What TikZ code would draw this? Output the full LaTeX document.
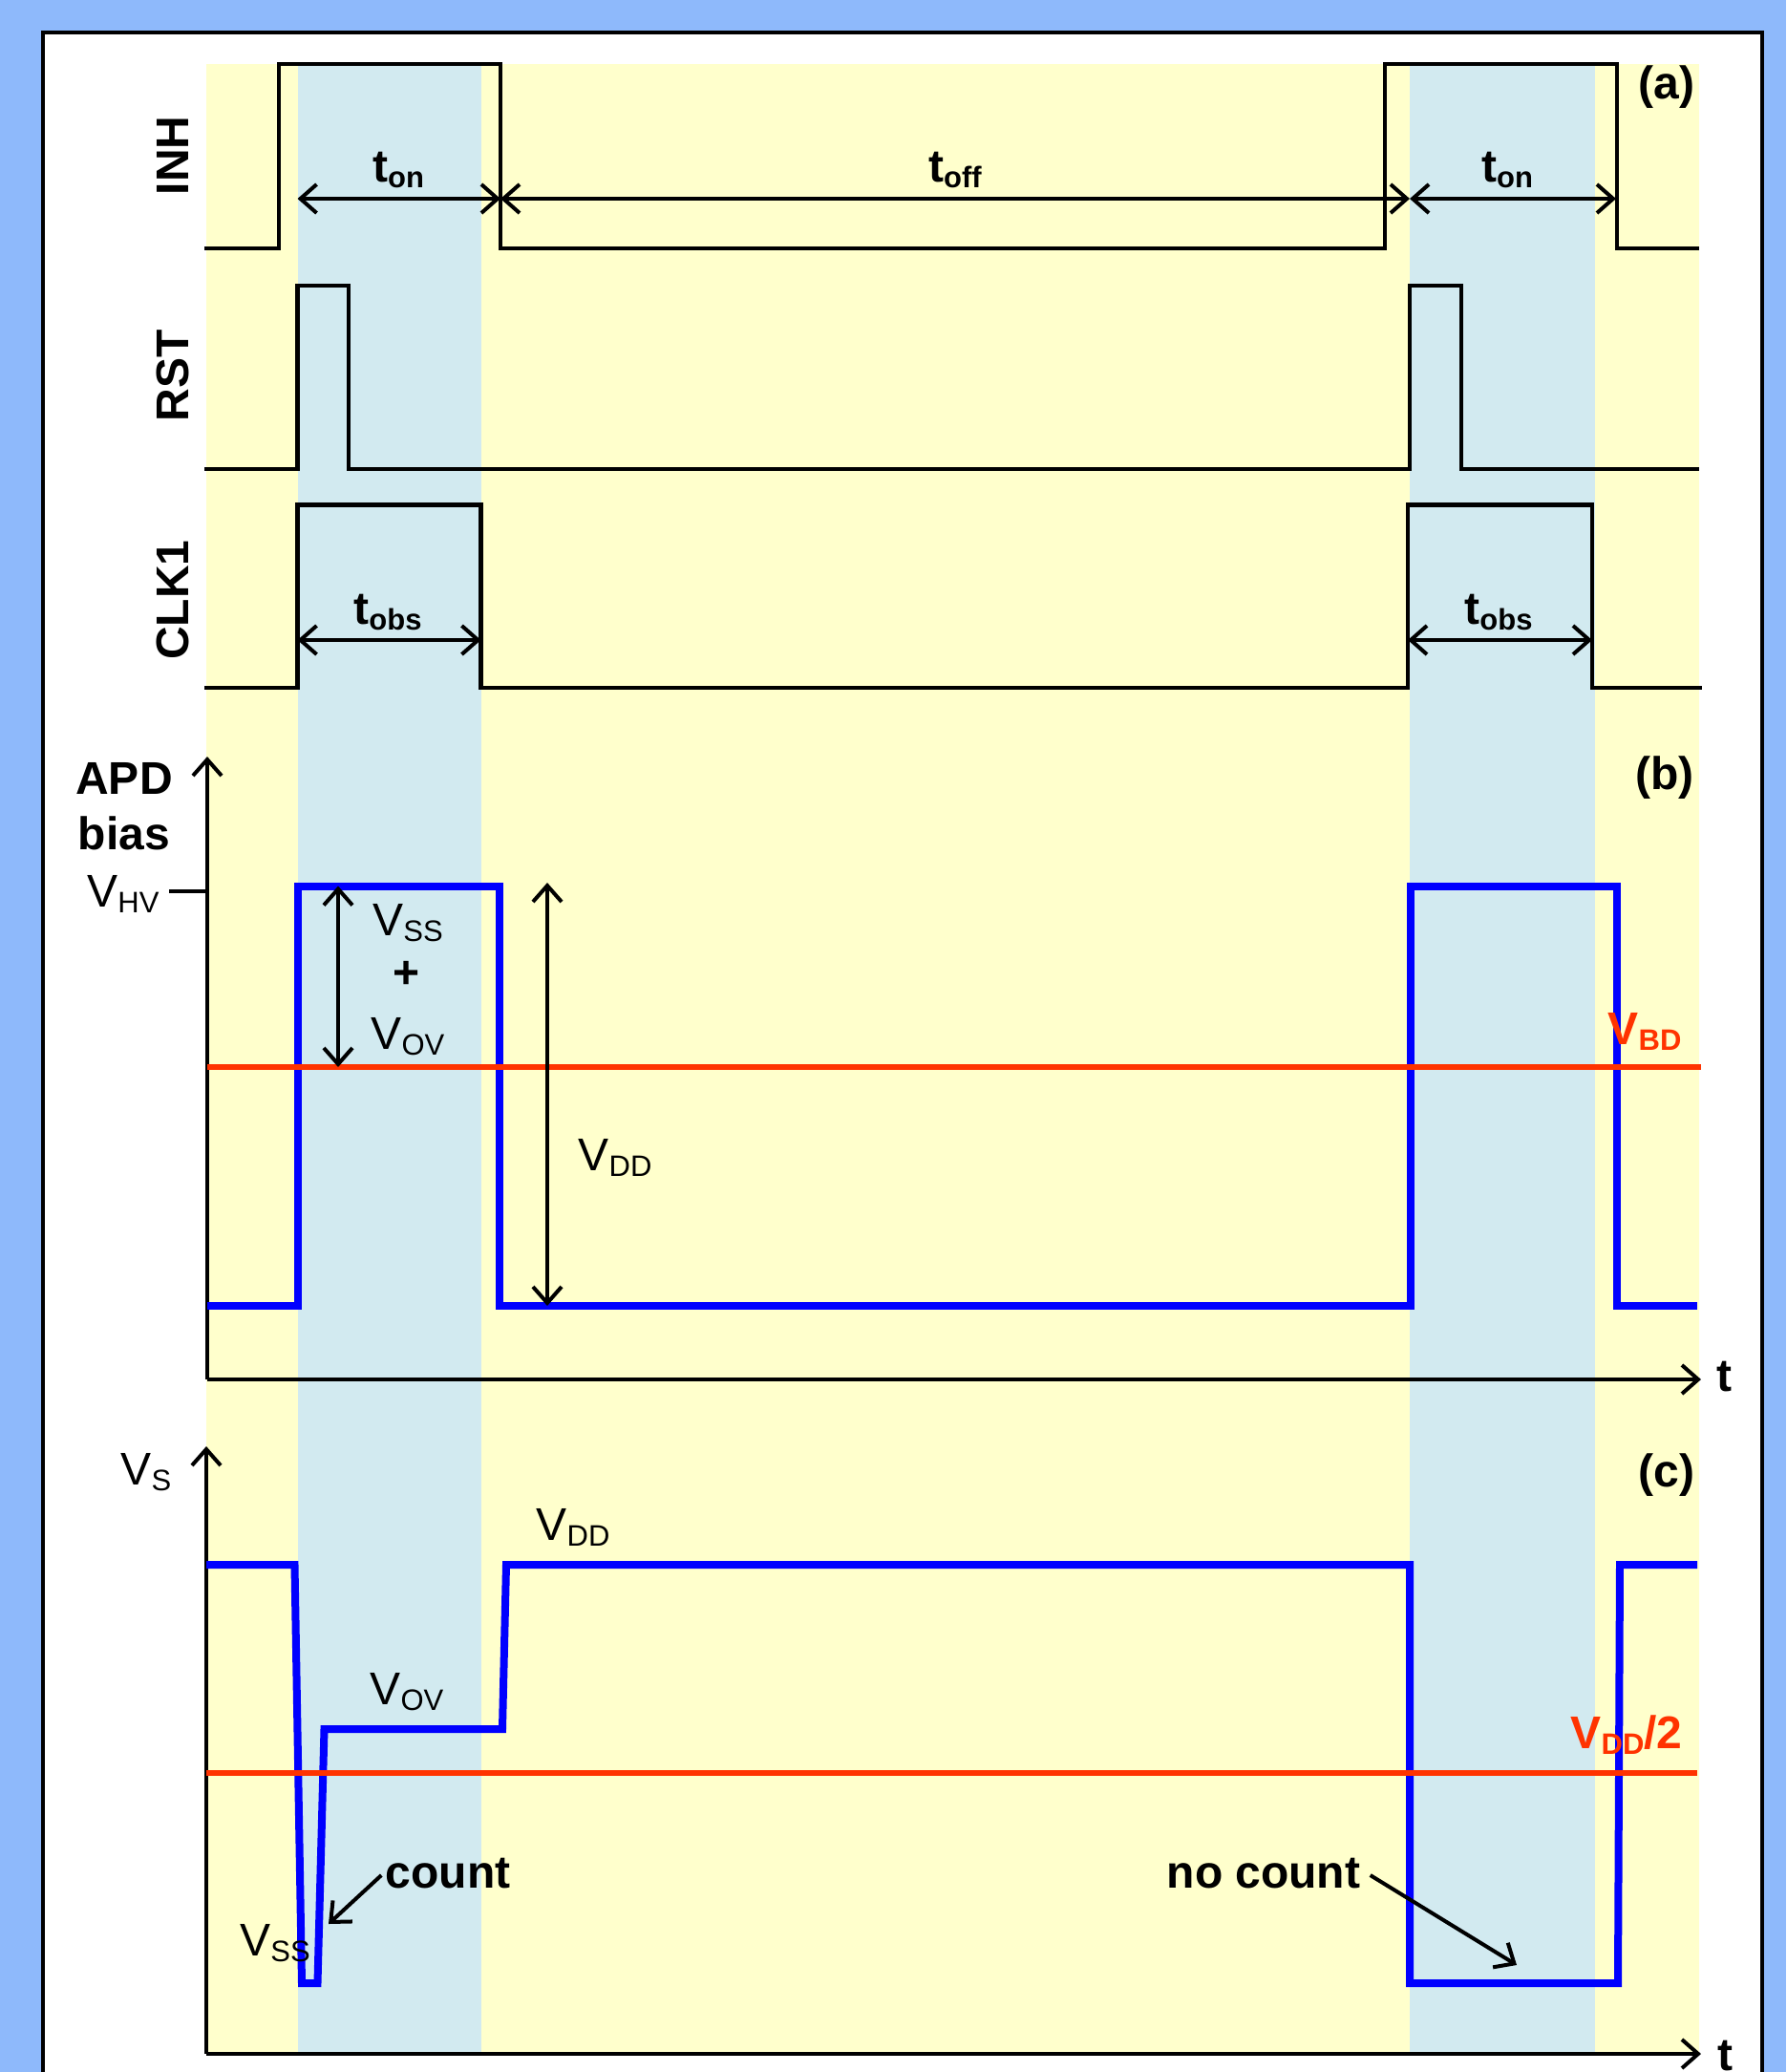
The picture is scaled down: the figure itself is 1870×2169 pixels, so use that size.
\documentclass[tikz,border=0pt]{standalone}
\usepackage{fontspec}
\setmainfont{Liberation Sans}
\usetikzlibrary{arrows.meta}
\definecolor{outerblue}{RGB}{142,185,251}
\definecolor{paleyellow}{RGB}{255,255,204}
\definecolor{paleblue}{RGB}{210,234,240}
\definecolor{sigred}{RGB}{255,51,0}
\definecolor{sigblue}{RGB}{0,0,255}
\newcommand{\sbs}[1]{\raisebox{-3.2pt}{\fontsize{15.5}{16}\selectfont #1}}
\begin{document}
\begin{tikzpicture}[x=0.5pt,y=-0.5pt,
  sig/.style={line width=2.3pt, line join=miter, line cap=rect},
  bsig/.style={line width=4pt, sigblue, line join=miter},
  rline/.style={line width=2.7pt, sigred},
  barb/.tip={Straight Barb[length=8.5pt,width=15pt]},
  dim/.style={line width=2pt, barb-barb},
  axis/.style={line width=2pt, -barb},
  pointer/.style={line width=2pt, -barb},
  lab/.style={font=\bfseries\fontsize{24}{28}\selectfont, inner sep=0pt},
  vlab/.style={font=\fontsize{24}{28}\selectfont, inner sep=0pt}]
\useasboundingbox (0,0) rectangle (1870,2169);
\clip (0,0) rectangle (1870,2169);
% backgrounds
\fill[outerblue] (0,0) rectangle (1870,2169);
\filldraw[fill=white, draw=black, line width=2pt] (45,34) rectangle (1845,2220);
\fill[paleyellow] (216,67) rectangle (1779,2149);
\fill[paleblue] (311.5,67) rectangle (503.5,2149);
\fill[paleblue] (1476,67) rectangle (1670,2149);

% ---------------- panel (a) ----------------
\draw[sig] (216,260) -- (292,260) -- (292,67) -- (524,67) -- (524,260) -- (1450,260) -- (1450,67) -- (1693,67) -- (1693,260) -- (1777,260);
\draw[sig] (216,491) -- (311.5,491) -- (311.5,299) -- (365,299) -- (365,491) -- (1476,491) -- (1476,299) -- (1530,299) -- (1530,491) -- (1777,491);
\draw[sig] (216,720) -- (311.5,720) -- (311.5,528.5) -- (503.5,528.5) -- (503.5,720) -- (1474,720) -- (1474,528.5) -- (1667,528.5) -- (1667,720) -- (1780,720);

\node[lab, rotate=90] (inh) at (181,163) {INH};
\node[lab, rotate=90] (rst) at (181,393) {RST};
\node[lab, rotate=90] (clk) at (181,628) {CLK1};
\node[lab] (lba) at (1745,91) {(a)};

\coordinate (a1) at (311.5,208);
\coordinate (a2) at (524,208);
\coordinate (a3) at (1476,208);
\coordinate (a4) at (1692,208);
\draw[dim] (a1) -- (a2);
\draw[dim] (a2) -- (a3);
\draw[dim] (a3) -- (a4);
\node[lab] (ton1) at (417,178) {t\sbs{on}};
\node[lab] (toff) at (1000,178) {t\sbs{off}};
\node[lab] (ton2) at (1578,178) {t\sbs{on}};

\coordinate (o1) at (311.5,670);
\coordinate (o2) at (503.5,670);
\coordinate (o3) at (1474,670);
\coordinate (o4) at (1667,670);
\draw[dim] (o1) -- (o2);
\draw[dim] (o3) -- (o4);
\node[lab] (tobs1) at (406,641) {t\sbs{obs}};
\node[lab] (tobs2) at (1569,641) {t\sbs{obs}};

% ---------------- panel (b) ----------------
\coordinate (b0) at (217,1444);
\coordinate (btop) at (217,792);
\coordinate (bend) at (1781,1444);
\draw[axis] (b0) -- (btop);
\draw[axis] (b0) -- (bend);
\node[lab] (tb) at (1805,1441) {t};

\coordinate (hv0) at (177,933);
\coordinate (hv1) at (217,933);
\draw[line width=2pt] (hv0) -- (hv1);
\node[lab] (apd) at (130,815) {APD};
\node[lab] (bias) at (130,872) {bias};
\node[vlab] (vhv) at (129,936) {V\sbs{HV}};

\draw[bsig] (217,1367) -- (312,1367) -- (312,927.5) -- (523,927.5) -- (523,1367) -- (1477,1367) -- (1477,927.5) -- (1693,927.5) -- (1693,1367) -- (1777,1367);
\draw[rline] (217,1117) -- (1781,1117);

\coordinate (s1) at (354,927.5);
\coordinate (s2) at (354,1117);
\draw[dim] (s1) -- (s2);
\coordinate (d1) at (573,924);
\coordinate (d2) at (573,1367);
\draw[dim] (d1) -- (d2);

\node[vlab] (vssb) at (427,966) {V\sbs{SS}};
\node[lab] (plus) at (426,1020) {+};
\node[vlab] (vovb) at (427,1085) {V\sbs{OV}};
\node[vlab] (vddb) at (644,1212) {V\sbs{DD}};
\node[lab] (lbb) at (1743,814) {(b)};
\node[lab, text=sigred] (vbd) at (1722,1080) {V\sbs{BD}};

% ---------------- panel (c) ----------------
\coordinate (c0) at (216,2150);
\coordinate (ctop) at (216,1514);
\coordinate (cend) at (1781,2150);
\draw[axis] (c0) -- (ctop);
\draw[axis] (c0) -- (cend);
\node[lab] (tc) at (1806,2152) {t};
\node[vlab] (vs) at (153,1541) {V\sbs{S}};

\draw[bsig] (216,1638) -- (308.5,1638) -- (316,2076) -- (332.5,2076) -- (339.5,1810) -- (526,1810) -- (530,1638) -- (1476,1638) -- (1476,2076) -- (1694,2076) -- (1696,1638) -- (1777,1638);
\draw[rline] (216,1856) -- (1777,1856);

\node[vlab] (vovc) at (426,1771) {V\sbs{OV}};
\node[vlab] (vddc) at (600,1599) {V\sbs{DD}};
\node[vlab] (vssc) at (288,2034) {V\sbs{SS}};
\node[lab] (lbc) at (1745,1544) {(c)};
\node[lab, text=sigred] (vdd2) at (1703,1816) {V\sbs{DD}/2};

\node[lab] (count) at (469,1961) {count};
\coordinate (ctip) at (344,2014);
\draw[pointer] ([xshift=-2pt,yshift=-1pt]count.west) -- (ctip);
\node[lab] (nocount) at (1323,1961) {no count};
\coordinate (nctip) at (1588,2057);
\draw[pointer] ([xshift=5pt,yshift=-1pt]nocount.east) -- (nctip);
\end{tikzpicture}
\end{document}
